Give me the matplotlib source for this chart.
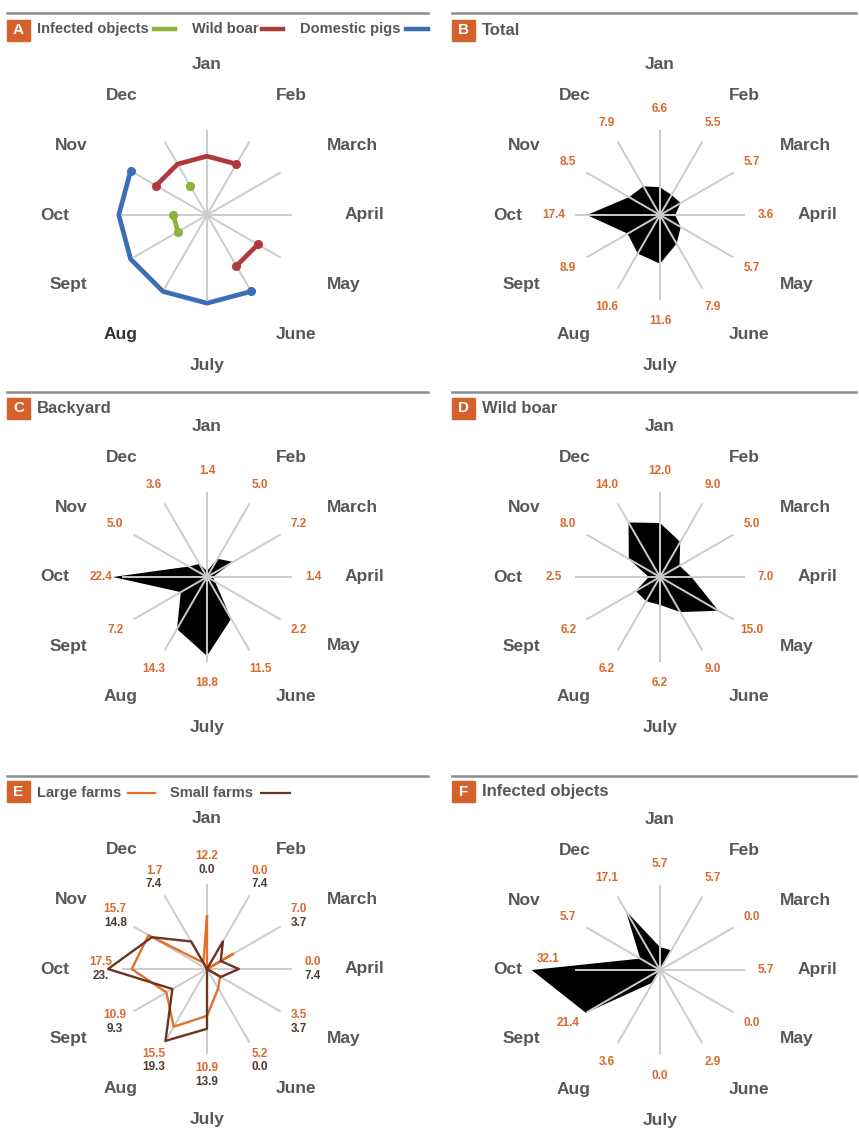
import numpy as np
import matplotlib.pyplot as plt
from matplotlib.lines import Line2D
from matplotlib.patches import Rectangle

plt.rcParams['font.family'] = ['Liberation Sans', 'DejaVu Sans']

# %% data
months = ['Jan', 'Feb', 'March', 'April', 'May', 'June', 'July', 'Aug', 'Sept', 'Oct', 'Nov', 'Dec']

# panel A: which ring each category sits on (None = no outbreaks that month)
a_infected = [None, None, None, None, None, None, None, None, 8, 8, None, 8]
a_boar = [14, 14, None, None, 14, 14, None, None, None, None, 14, 14]
a_pigs = [None, None, None, None, None, 21, 21, 21, 21, 21, 21, None]

total = [6.6, 5.5, 5.7, 3.6, 5.7, 7.9, 11.6, 10.6, 8.9, 17.4, 8.5, 7.9]
backyard = [1.4, 5.0, 7.2, 1.4, 2.2, 11.5, 18.8, 14.3, 7.2, 22.4, 5.0, 3.6]
wild_boar = [12.0, 9.0, 5.0, 7.0, 15.0, 9.0, 6.2, 6.2, 6.2, 2.5, 8.0, 14.0]
large_farms = [12.2, 0.0, 7.0, 0.0, 3.5, 5.2, 10.9, 15.5, 10.9, 17.5, 15.7, 1.7]
small_farms = [0.0, 7.4, 3.7, 7.4, 3.7, 0.0, 13.9, 19.3, 9.3, 23.0, 14.8, 7.4]
small_labels = ['%.1f' % v for v in small_farms]
small_labels[9] = '23.'
infected_objects = [5.7, 5.7, 0.0, 5.7, 0.0, 2.9, 0.0, 3.6, 21.4, 32.1, 5.7, 17.1]

# %% style
W, H = 859, 1144
ORANGE = '#d4622a'
LBL_OR = '#d9692c'
GREY_TXT = '#575757'
SPOKE = '#cccccc'
C_GREEN = '#8db33a'
C_RED = '#b03a3a'
C_BLUE = '#3a6fb8'
C_LARGE = '#e0702a'
C_SMALL = '#6b3522'
C_SMALL_TXT = '#4d3a30'

theta = np.deg2rad(np.arange(12) * 30)

fig = plt.figure(figsize=(W / 100, H / 100), dpi=100)


def fx(x):
    return x / W


def fy(y):
    return 1 - y / H


def header(x0, x1, yline, ybox, letter, title=None):
    fig.add_artist(Line2D([fx(x0), fx(x1)], [fy(yline), fy(yline)], color='#8c8c8c', lw=1.8,
                          transform=fig.transFigure))
    fig.add_artist(Rectangle((fx(x0), fy(ybox + 21)), 23 / W, 21 / H, color=ORANGE,
                             transform=fig.transFigure))
    fig.text(fx(x0 + 11.5), fy(ybox + 10.5), letter, color='white', fontsize=11, weight='bold',
             ha='center', va='center')
    if title:
        fig.text(fx(x0 + 30), fy(ybox + 10.5), title, color=GREY_TXT, fontsize=12, weight='bold',
                 ha='left', va='center')


def legend_item(x, y, text, x_line, w_line, color, lw):
    fig.text(fx(x), fy(y), text, color=GREY_TXT, fontsize=10.5, weight='bold', ha='left', va='center')
    fig.add_artist(Line2D([fx(x_line), fx(x_line + w_line)], [fy(y), fy(y)], color=color, lw=lw,
                          transform=fig.transFigure))


def radar(cx, cy, s, R=180, dark=None):
    ax = fig.add_axes([fx(cx - R), fy(cy + R), 2 * R / W, 2 * R / H], projection='polar')
    ax.set_theta_zero_location('N')
    ax.set_theta_direction(-1)
    ax.set_ylim(0, R / s)
    ax.axis('off')
    ax.set_facecolor('none')
    for t in theta:
        ax.plot([t, t], [0, 84 / s], color=SPOKE, lw=1.4, zorder=3)
    for i, (t, m) in enumerate(zip(theta, months)):
        sx = np.sin(t)
        ha = 'left' if sx > 0.1 else ('right' if sx < -0.1 else 'center')
        va = 'bottom' if i == 0 else ('top' if i == 6 else 'center')
        r0 = 143 if i in (0, 6) else 138
        col = '#333333' if i == dark else GREY_TXT
        ax.text(t, r0 / s, m, ha=ha, va=va, fontsize=12.5, weight='bold', color=col)
    return ax


def value_labels(ax, s, vals, nudge=None):
    nudge = nudge or {}
    for i, (t, v) in enumerate(zip(theta, vals)):
        ax.annotate('%.1f' % v, xy=(t, 106 / s), xytext=nudge.get(i, (0, 0)),
                    textcoords='offset points', ha='center', va='center',
                    fontsize=8.5, weight='bold', color=LBL_OR)


def filled(ax, vals):
    th = np.append(theta, theta[0])
    r = np.append(vals, vals[0])
    ax.fill(th, r, color='black', zorder=2, lw=0)


def runs(vals):
    out = []
    for i in range(12):
        if vals[i] is not None and vals[(i - 1) % 12] is None:
            run = [i]
            j = i + 1
            while vals[j % 12] is not None and j - i < 12:
                run.append(j)
                j += 1
            out.append(run)
    return out


# %% panel A
header(7, 428, 13, 20, 'A')
legend_item(37, 29, 'Infected objects', 154, 21, C_GREEN, 3.2)
legend_item(192, 29, 'Wild boar', 262, 21, C_RED, 3.2)
legend_item(300, 29, 'Domestic pigs', 406, 22, C_BLUE, 3.2)
sA = 4.2
axA = radar(207, 215, sA, dark=7)
for vals, col in [(a_infected, C_GREEN), (a_boar, C_RED), (a_pigs, C_BLUE)]:
    for run in runs(vals):
        th = np.deg2rad(np.array(run) * 30)
        r = [vals[k % 12] for k in run]
        axA.plot(th, r, color=col, lw=3.4, solid_capstyle='round', zorder=4,
                 marker='o', ms=5.5, markevery=[0, len(run) - 1])

# %% panel B
header(452, 856, 13, 20, 'B', 'Total')
sB = 4.2
axB = radar(660, 215, sB)
filled(axB, total)
value_labels(axB, sB, total)

# %% panel C
header(7, 428, 392, 398, 'C', 'Backyard')
sC = 4.2
axC = radar(207, 577, sC)
filled(axC, backyard)
value_labels(axC, sC, backyard)

# %% panel D
header(452, 856, 392, 398, 'D', 'Wild boar')
sD = 4.5
axD = radar(660, 577, sD)
filled(axD, wild_boar)
value_labels(axD, sD, wild_boar)

# %% panel E
header(7, 428, 776, 781, 'E')
legend_item(37, 793, 'Large farms', 128, 27, C_LARGE, 1.6)
legend_item(170, 793, 'Small farms', 261, 29, C_SMALL, 1.6)
sE = 4.3
axE = radar(207, 969, sE)
th_c = np.append(theta, theta[0])
axE.plot(th_c, np.append(large_farms, large_farms[0]), color=C_LARGE, lw=1.7, zorder=4)
axE.plot(th_c, np.append(small_farms, small_farms[0]), color=C_SMALL, lw=1.7, zorder=4)
for t, v, sl in zip(theta, large_farms, small_labels):
    axE.annotate('%.1f' % v, xy=(t, 106 / sE), xytext=(0, 4.8), textcoords='offset points',
                 ha='center', va='center', fontsize=8.5, weight='bold', color=LBL_OR)
    axE.annotate(sl, xy=(t, 106 / sE), xytext=(0, -4.8), textcoords='offset points',
                 ha='center', va='center', fontsize=8.5, weight='bold', color=C_SMALL_TXT)

# %% panel F
header(452, 856, 776, 781, 'F', 'Infected objects')
sF = 4.0
axF = radar(660, 970, sF)
filled(axF, infected_objects)
value_labels(axF, sF, infected_objects, nudge={9: (-4, 8)})

fig.savefig('out.png', dpi=100)
